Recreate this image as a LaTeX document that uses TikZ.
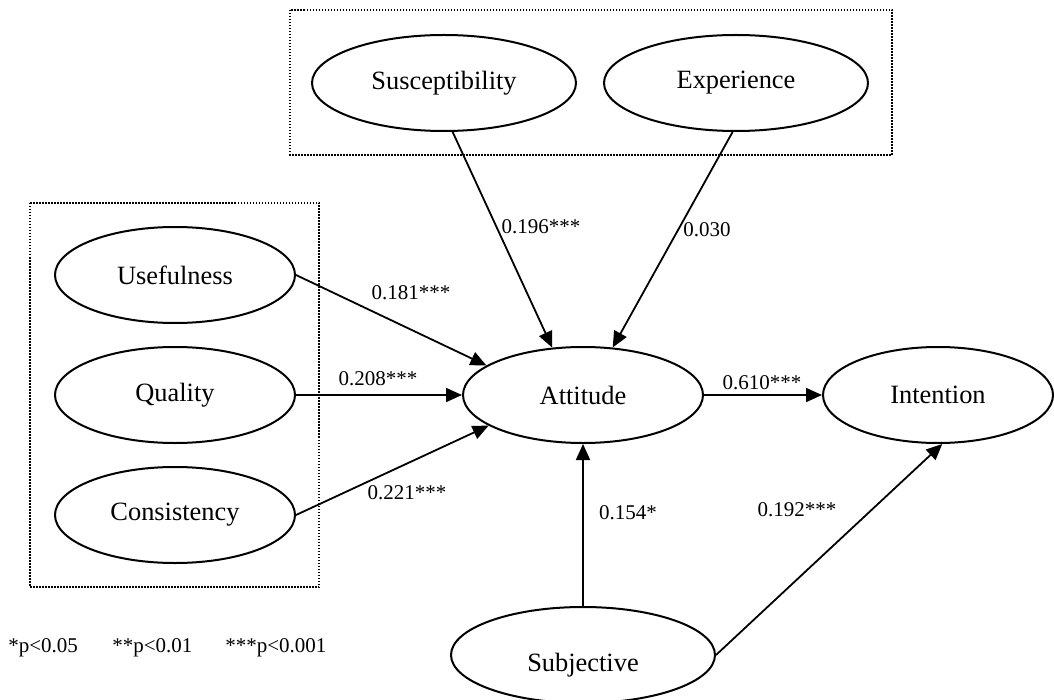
\documentclass[tikz,border=0pt]{standalone}
\usepackage{fontspec}
\setmainfont{Liberation Serif}
\usetikzlibrary{shapes.geometric,arrows.meta}

\begin{document}
\begin{tikzpicture}[x=0.5pt, y=-0.5pt,
		latent/.style={ellipse, draw, line width=1pt, inner sep=0pt,
			minimum width=120pt, minimum height=48pt,
			font=\fontsize{13.2}{15}\selectfont},
		wide/.style={minimum width=132pt},
		path/.style={-{Triangle[length=8pt,width=7pt]}, line width=0.9pt},
		coef/.style={inner sep=0pt, font=\fontsize{10.5}{12}\selectfont},
		group/.style={line width=0.75pt, dash pattern=on 0.75pt off 0.75pt}]
			\useasboundingbox (0,0) rectangle (1054,700);
			
			% grouping boxes
			\draw[group] (290,10) rectangle (892,155);
			\draw[group] (30,203) rectangle (319,587);
			
			\node[latent, wide] (susc) at (444,83) {Susceptibility};
			\node[latent, wide] (exper) at (736,83) {Experience};
			\node[latent] (useful) at (175,275) {Usefulness};
			\node[latent] (quality) at (175,395) {Quality};
			\node[latent] (consist) at (175,515) {Consistency};
			\node[latent] (attitude) at (583,395) {Attitude};
			\node[latent, minimum width=115pt] (intention) at (938,395) {Intention};
			\node[latent, wide, text height=19pt] (subj) at (583,655) {Subjective};
			
			\draw[path] (susc.280) -- (attitude.123);
			\draw[path] (exper.266) -- (attitude.58);
			\draw[path] (useful.east) -- (attitude.163);
			\draw[path] (quality.east) -- (attitude.west);
			\draw[path] (consist.east) -- (attitude.198);
			\draw[path] (attitude.east) -- (intention.west);
			\draw[path] (subj.north) -- (attitude.south);
			\draw[path] (subj.east) -- (intention.275);
			
			\node[coef] (c196) at (541,227) {0.196***};
			\node[coef] (c030) at (707,230) {0.030};
			\node[coef] (c181) at (411,293) {0.181***};
			\node[coef] (c208) at (378,379) {0.208***};
			\node[coef] (c221) at (407,493) {0.221***};
			\node[coef] (c610) at (762,383) {0.610***};
			\node[coef] (c154) at (628,513) {0.154*};
			\node[coef] (c192) at (797,510) {0.192***};
			
			% significance levels
			\node[coef, anchor=west] (p05) at (8,648) {*p<0.05};
			\node[coef, anchor=west] (p01) at (112,648) {**p<0.01};
			\node[coef, anchor=west] (p001) at (225,648) {***p<0.001};
		\end{tikzpicture}
\end{document}
